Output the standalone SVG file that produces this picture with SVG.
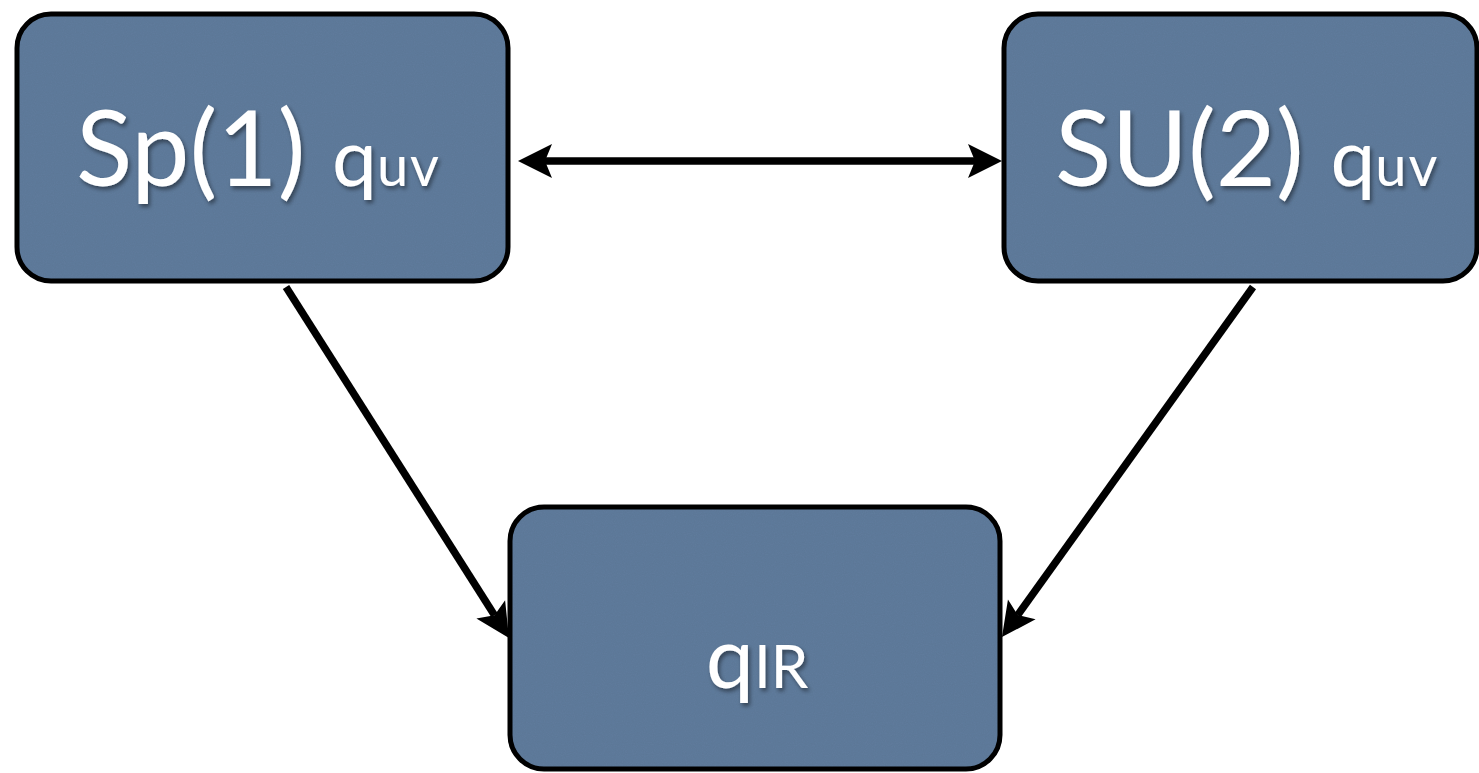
<svg xmlns="http://www.w3.org/2000/svg" width="1479" height="773" viewBox="0 0 1479 773">
  <defs>
    <style>
      .fill { fill: #607d9d; filter: url(#grain); }
      .frame { fill: none; stroke: #000; stroke-width: 5; }
      .label { fill: #fff; font-family: Lato, "Open Sans", "Liberation Sans", sans-serif; filter: url(#shade); }
      .big { font-size: 104px; }
      .mid { font-size: 80px; }
      .sub { font-size: 56px; letter-spacing: 2px; }
      .edge { fill: none; stroke: #000; stroke-width: 7.5; marker-end: url(#head); }
    </style>
    <!-- arrowhead: reference point sits in the notch, tip 27px ahead -->
    <marker id="head" markerUnits="userSpaceOnUse" viewBox="-10 -20 40 40" markerWidth="40" markerHeight="40" refX="0" refY="0" orient="auto-start-reverse">
      <path d="M27,0 L-7,-17 L0,0 L-7,17 Z" fill="#000"/>
    </marker>
    <!-- soft shadow behind white labels -->
    <filter id="shade" x="-10%" y="-20%" width="130%" height="150%">
      <feDropShadow dx="2" dy="3" stdDeviation="2" flood-color="#000" flood-opacity="0.45"/>
    </filter>
    <!-- faint paper grain on the box fill -->
    <filter id="grain" x="0" y="0" width="100%" height="100%">
      <feTurbulence type="fractalNoise" baseFrequency="0.9" numOctaves="2" seed="3" result="noise"/>
      <feColorMatrix in="noise" type="matrix" values="0 0 0 0 0  0 0 0 0 0  0 0 0 0 0  0 0 0 0.1 0" result="speck"/>
      <feComposite in="speck" in2="SourceGraphic" operator="in" result="grainIn"/>
      <feMerge>
        <feMergeNode in="SourceGraphic"/>
        <feMergeNode in="grainIn"/>
      </feMerge>
    </filter>
  </defs>

  <rect width="1479" height="773" fill="#fff"/>

  <g id="connectors">
    <line class="edge" x1="545" y1="161" x2="975" y2="161" style="marker-start: url(#head)"/>
    <line class="edge" x1="286" y1="287" x2="494.5" y2="615.2"/>
    <line class="edge" x1="1253" y1="287" x2="1017.7" y2="615.1"/>
  </g>

  <g id="node-sp1">
    <rect class="fill" x="17" y="14" width="491" height="267" rx="34"/>
    <rect class="frame" x="17" y="14" width="491" height="267" rx="34"/>
    <text class="label" x="76" y="186"><tspan class="big">Sp(1) </tspan><tspan class="mid">q</tspan><tspan class="sub">uv</tspan></text>
  </g>

  <g id="node-su2">
    <rect class="fill" x="1004" y="14" width="473" height="267" rx="34"/>
    <rect class="frame" x="1004" y="14" width="473" height="267" rx="34"/>
    <text class="label" x="1055" y="186"><tspan class="big">SU(2) </tspan><tspan class="mid">q</tspan><tspan class="sub">uv</tspan></text>
  </g>

  <g id="node-qir">
    <rect class="fill" x="510" y="507" width="490" height="262" rx="34"/>
    <rect class="frame" x="510" y="507" width="490" height="262" rx="34"/>
    <text class="label" x="757" y="688" text-anchor="middle"><tspan style="font-size:86px">q</tspan><tspan style="font-size:60px">IR</tspan></text>
  </g>
</svg>
